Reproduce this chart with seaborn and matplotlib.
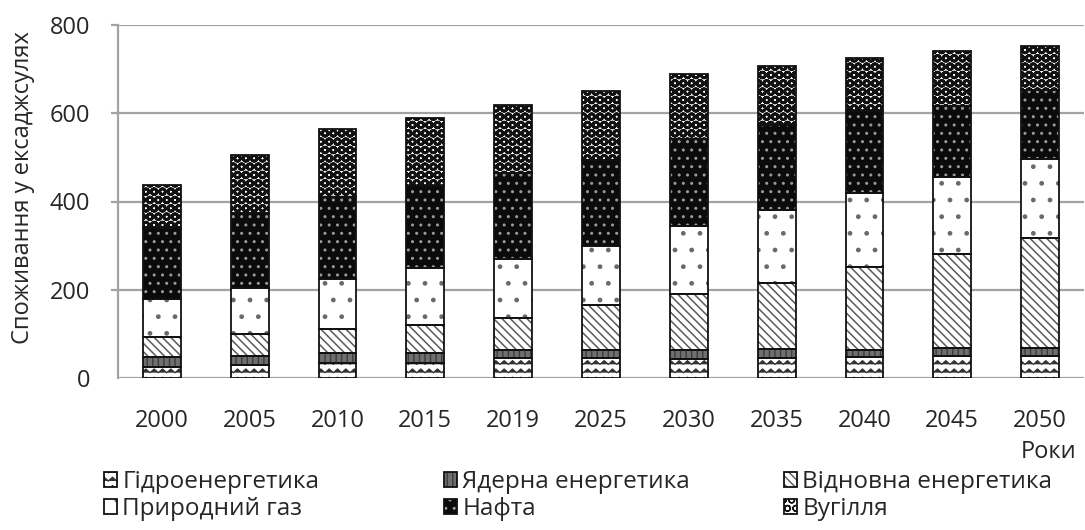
import warnings
import numpy as np
import matplotlib
matplotlib.use("Agg")
import matplotlib.pyplot as plt
import matplotlib.hatch as mhatch
from matplotlib.path import Path
from matplotlib.legend_handler import HandlerTuple
import seaborn as sns

# ---- data: world primary energy consumption, exajoules ----
years = ["2000", "2005", "2010", "2015", "2019", "2025",
         "2030", "2035", "2040", "2045", "2050"]
hydro     = [26, 29, 33, 35, 45, 45, 43, 45, 47, 50, 50]
nuclear   = [22, 21, 23, 22, 19, 19, 21, 20, 17, 17, 17]
renewable = [46, 50, 54, 63, 71, 102, 127, 150, 187, 214, 250]
gas       = [84, 103, 114, 129, 134, 134, 153, 165, 169, 174, 179]
oil       = [161, 172, 186, 185, 195, 194, 197, 194, 184, 162, 156]
coal      = [99, 131, 155, 155, 155, 157, 147, 134, 121, 125, 100]

labels = ["Гідроенергетика", "Ядерна енергетика", "Відновна енергетика",
          "Природний газ", "Нафта", "Вугілля"]
y_ticks = [0, 200, 400, 600, 800]


# ---- an extra hatch: rows of chevrons, selected with 'z' ----
class ZigzagHatch(mhatch.HatchPatternBase):
    def __init__(self, hatch, density):
        self.num_rows = hatch.count("z") * density
        self.num_teeth = self.num_rows
        self.num_vertices = self.num_rows * (2 * self.num_teeth + 1)

    def set_vertices_and_codes(self, vertices, codes):
        n, m = self.num_rows, self.num_teeth
        k = np.arange(2 * m + 1)
        xs = k / (2 * m)
        amp = 0.22 / n
        cur = 0
        for i in range(n):
            y0 = (i + 0.5) / n
            seg = slice(cur, cur + 2 * m + 1)
            vertices[seg, 0] = xs
            vertices[seg, 1] = y0 + np.where(k % 2 == 0, -amp, amp)
            codes[seg] = Path.LINETO
            codes[cur] = Path.MOVETO
            cur += 2 * m + 1


mhatch._hatch_types.append(ZigzagHatch)
warnings.filterwarnings("ignore", message=".*hatch must consist.*")

sns.set_theme(style="white")
plt.rcParams["font.family"] = ["Open Sans", "DejaVu Sans"]

fig = plt.figure(figsize=(10.85, 5.30), dpi=100)
ax = fig.add_axes([118 / 1085, 152 / 530, 966 / 1085, 353 / 530])

# series styling: face colour, hatch, hatch colour, hatch line width
series = [
    (hydro,     "white",   "zz",       "#333333", 0.9),
    (nuclear,   "#6f6f6f", "|||",      "#3c3c3c", 1.0),
    (renewable, "white",   "\\\\\\\\", "#5a5a5a", 1.1),
    (gas,       "white",   ".",        "#6a6a6a", 1.0),
    (oil,       "#0b0b0b", "..",       "#9a9a9a", 1.0),
    (coal,      "white",   "OO",       "#111111", 2.0),
]

bar_w = 0.43
cum = np.zeros(len(years))
handles = []
for vals, face, hatch, hcol, hlw in series:
    vals = np.asarray(vals, dtype=float)
    with plt.rc_context({"hatch.linewidth": hlw}):
        n0 = len(ax.patches)
        sns.barplot(x=years, y=vals, bottom=cum, order=years, color=face,
                    saturation=1, width=bar_w, errorbar=None, hatch=hatch,
                    edgecolor=hcol, linewidth=0, ax=ax, zorder=2)
        fill_patches = ax.patches[n0:]
        for p in fill_patches:
            if hasattr(p, "set_hatch_linewidth"):
                p.set_hatch_linewidth(hlw)
    n1 = len(ax.patches)
    sns.barplot(x=years, y=vals, bottom=cum, order=years, fill=False,
                color="#111111", width=bar_w, errorbar=None,
                linewidth=1.3, ax=ax, zorder=3)
    handles.append((fill_patches[0], ax.patches[n1]))
    cum = cum + vals

# ---- axes styling ----
ax.set_ylim(0, 800)
ax.set_xlim(-0.5, len(years) - 0.5)
ax.set_yticks(y_ticks)
ax.set_axisbelow(True)
ax.yaxis.grid(True, color="#a3a3a3", linewidth=1.6)
ax.xaxis.grid(False)
for side in ("top", "right", "bottom"):
    ax.spines[side].set_visible(False)
ax.spines["left"].set_color("#a3a3a3")
ax.spines["left"].set_linewidth(1.6)
ax.tick_params(axis="y", length=5, width=1.6, color="#a3a3a3",
               labelsize=17, pad=15, labelcolor="#262626", left=True)
ax.yaxis.get_major_ticks()[0].tick1line.set_visible(False)
ax.tick_params(axis="x", length=0, labelsize=17, pad=22, labelcolor="#262626")
ax.set_xlabel("")
ax.set_ylabel("")

fig.text(23 / 1085, 1 - 188 / 530, "Споживання у ексаджсулях", rotation=90,
         ha="center", va="center", fontsize=17, color="#262626")
fig.text(1076 / 1085, 1 - 452 / 530, "Роки", ha="right", va="center",
         fontsize=17, color="#262626")

# ---- legend: three columns of two entries ----
col_x = [104, 444, 784]
for c in range(3):
    idx = [c, c + 3]
    leg = fig.legend([handles[i] for i in idx], [labels[i] for i in idx],
                     handler_map={tuple: HandlerTuple(ndivide=1, pad=0)},
                     loc="upper left",
                     bbox_to_anchor=(col_x[c] / 1085, 1 - 470 / 530),
                     frameon=False, borderpad=0, borderaxespad=0,
                     handlelength=0.55, handleheight=0.55, handletextpad=0.2,
                     labelspacing=0.12, fontsize=17.5)
    for t in leg.get_texts():
        t.set_color("#262626")

fig.savefig("out.png", dpi=100)
